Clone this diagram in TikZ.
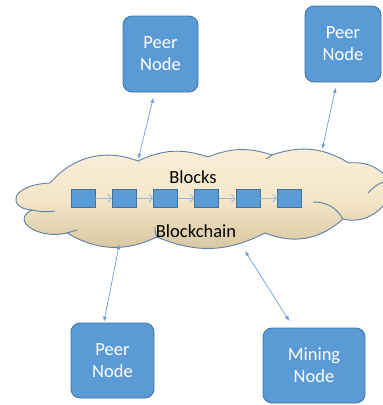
\documentclass[tikz,border=0pt]{standalone}
\usepackage{fontspec}
\setmainfont{Carlito}
\usetikzlibrary{arrows.meta}

\definecolor{nodefill}{HTML}{5B9BD5}
\definecolor{nodeline}{HTML}{41719C}
\definecolor{linkblue}{HTML}{6A9FD4}
\definecolor{chainarrow}{HTML}{93B9E0}
\definecolor{cloudline}{HTML}{5B80A8}
\definecolor{cloudtop}{HTML}{FCEFDA}
\definecolor{cloudmid}{HTML}{F4E6C8}
\definecolor{cloudbot}{HTML}{D6C49E}

\tikzset{
  nodebox/.style={draw=nodeline, line width=0.8pt, fill=nodefill, rounded corners=9pt,
    text=white, align=center, inner sep=0pt,
    font=\fontsize{18.5}{22}\selectfont},
  blockbox/.style={draw=nodeline, line width=0.6pt, fill=nodefill,
    minimum width=24pt, minimum height=18pt, inner sep=0pt},
  link/.style={draw=linkblue, line width=0.7pt,
    {Latex[length=5pt,width=4pt]}-{Latex[length=5pt,width=4pt]}},
  chainlink/.style={draw=chainarrow, line width=0.8pt,
    -{Straight Barb[length=3.5pt,width=8pt]}},
  cloudshape/.style={draw=cloudline, line width=0.9pt, line join=round,
    top color=cloudtop, bottom color=cloudbot, middle color=cloudmid},
  cloudedge/.style={draw=cloudline, line width=0.9pt},
  label/.style={font=\fontsize{18.5}{22}\selectfont, text=black, inner sep=0pt, anchor=base}
}

\begin{document}
\begin{tikzpicture}[x=1pt, y=-1pt]
  \useasboundingbox (0,0) rectangle (383,405);
  \clip (0,0) rectangle (383,405);

  % cusps of the cloud outline, clockwise from the left
  \coordinate (c1) at (50,183);
  \coordinate (c2) at (138,161);
  \coordinate (c3) at (208,157);
  \coordinate (c4) at (272,155);
  \coordinate (c5) at (349,163);
  \coordinate (c6) at (392,185);
  \coordinate (c7) at (343,219);
  \coordinate (c8) at (265,233);
  \coordinate (c9) at (157,237);
  \coordinate (c10) at (67,233);
  \coordinate (c11) at (32,210);

  % the cloud
  \path[cloudshape] (c1) to[bend left=35] (c2) to[bend left=22] (c3)
    to[bend left=20] (c4) to[bend left=25] (c5) to[bend left=33] (c6)
    to[bend left=50] (c7) to[bend left=32] (c8) to[bend left=25] (c9)
    to[bend left=28] (c10) .. controls (38,240) and (10,220) .. (c11)
    .. controls (8,209) and (8,185) .. (c1) -- cycle;

  % inner arcs of the cloud
  \draw[cloudedge] (c11) to[bend right=10] (55,211);
  \draw[cloudedge] (c9) to[bend left=15] (155,227);
  \draw[cloudedge] (c7) to[bend right=30] (313,202);
  \draw[cloudedge] (368,193) to[bend left=20] (392,180);
  \draw[cloudedge] (c4) -- (266,159);
  \draw[cloudedge] (c10) -- (77,230);

  % chain of blocks
  \foreach \i in {0,...,5} {
    \node[blockbox] (b\i) at ({83+41.2*\i},198.3) {};
  }
  \foreach \i/\j in {0/1,1/2,2/3,3/4,4/5} {
    \draw[chainlink] (b\i.east) -- (b\j.west);
  }

  \node[label] (blk) at (193,183) {Blocks};
  \node[label] (bch) at (196,237) {Blockchain};

  % peers and miner
  \node[nodebox, minimum width=75pt, minimum height=76pt] (p1) at (160.5,54) {Peer\\Node};
  \node[nodebox, minimum width=76pt, minimum height=76pt] (p2) at (343,44) {Peer\\Node};
  \node[nodebox, minimum width=83pt, minimum height=75pt] (p3) at (112.5,360.5) {Peer\\Node};
  \node[nodebox, minimum width=102pt, minimum height=75pt] (mn) at (314,365.5) {Mining\\Node};

  % link ends
  \coordinate (p1e) at (153.3,97.7);
  \coordinate (k1e) at (138.3,159);
  \coordinate (p2e) at (335.7,87.7);
  \coordinate (k2e) at (322.3,149);
  \coordinate (k3e) at (119.3,244.3);
  \coordinate (p3e) at (104,321.7);
  \coordinate (k4e) at (245,251);
  \coordinate (mne) at (289.3,321);

  \draw[link] (p1e) -- (k1e);
  \draw[link] (p2e) -- (k2e);
  \draw[link] (k3e) -- (p3e);
  \draw[link] (k4e) -- (mne);
\end{tikzpicture}
\end{document}
